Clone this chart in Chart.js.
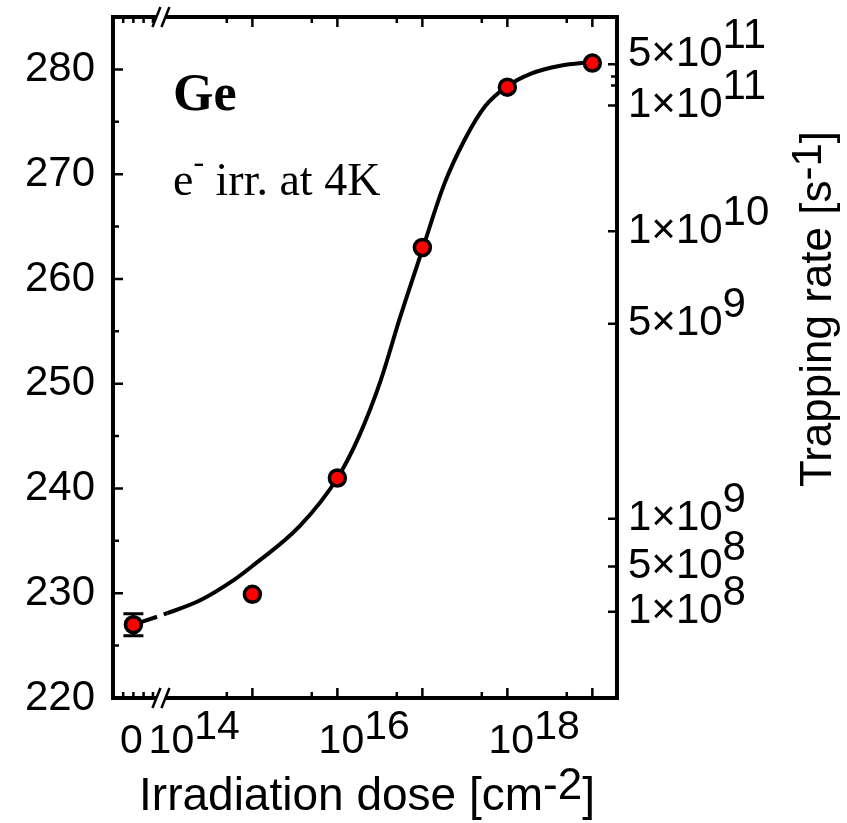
<!DOCTYPE html>
<html>
<head>
<meta charset="utf-8">
<script src="https://cdn.jsdelivr.net/npm/chart.js@4.4.1/dist/chart.umd.min.js"></script>
<style>
  html, body { margin: 0; padding: 0; background: #fff; }
  canvas { display: block; }
</style>
</head>
<body>
<canvas id="myChart" width="847" height="823"></canvas>
<script>
// measured points: dose [cm^-2] and lifetime [ps]
var doseValues = [0, 1e15, 1e16, 1e17, 1e18, 1e19];
var lifetimeValues = [227, 229.9, 241, 263, 278.3, 280.6];
var lifetimeErr = [1.05, 0, 0, 0, 0, 0];

// fitted curve
var fitDose = [0, 1e14, 2.4e14, 5.9e14, 1e15, 3.6e15, 1e16, 1.8e16, 3.2e16, 5.5e16,
               1e17, 1.8e17, 3.2e17, 5.5e17, 1e18, 1.9e18, 4.2e18, 1e19];
var fitLifetime = [227.0, 228.1, 229.3, 231.2, 232.6, 236.4, 241.0, 245.0, 250.2, 256.4,
                   262.8, 269.0, 273.4, 276.5, 278.4, 279.6, 280.35, 280.7];

// left axis
var yTicks = [220, 230, 240, 250, 260, 270, 280];
var yMinorTicks = [225, 235, 245, 255, 265, 275, 285];

// bottom axis
var xLabelDose = [0, 1e14, 1e16, 1e18];
var xMajorDose = [1e15, 1e16, 1e17, 1e18, 1e19];
var xMinorDose = [5e14, 5e15, 5e16, 5e17, 5e18];
var zeroTicks = [13.48, 13.6, 13.72, 13.83];

// right axis: trapping rate, placed on the lifetime scale
var rateMant = [5, 1, 1, 5, 1, 5, 1];
var rateExp = [11, 11, 10, 9, 9, 8, 8];
var ratePos = [280.48, 276.56, 264.55, 255.73, 237.10, 232.54, 228.24];
var rateMinorPos = [279.33, 278.47];

var ZERO_POS = 13.6;   // dose 0 sits left of the axis break
var BREAK_POS = 13.93;
function pos(d) { return d === 0 ? ZERO_POS : Math.log10(d); }

var SANS = 'Arial, "Liberation Sans", sans-serif';
var SERIF = '"Times New Roman", "Liberation Serif", serif';

// draws text pieces one after another, sup pieces raised
function drawParts(ctx, parts, x, y, align) {
  var total = 0;
  parts.forEach(function (p) { ctx.font = p.font; p.w = ctx.measureText(p.t).width; total += p.w; });
  var cx = align === 'center' ? x - total / 2 : x;
  parts.forEach(function (p) {
    ctx.font = p.font;
    ctx.fillText(p.t, cx, y - (p.rise || 0));
    cx += p.w;
  });
}

var frame = {
  id: 'frame',
  beforeDatasetsDraw: function (chart) {
    var ctx = chart.ctx, xs = chart.scales.x, ys = chart.scales.y;
    ctx.save();
    ctx.strokeStyle = '#000';
    ctx.lineWidth = 3;
    doseValues.forEach(function (d, i) {
      if (!lifetimeErr[i]) return;
      var px = xs.getPixelForValue(pos(d));
      var y0 = ys.getPixelForValue(lifetimeValues[i] - lifetimeErr[i]);
      var y1 = ys.getPixelForValue(lifetimeValues[i] + lifetimeErr[i]);
      ctx.beginPath();
      ctx.moveTo(px, y0); ctx.lineTo(px, y1);
      ctx.moveTo(px - 10, y0); ctx.lineTo(px + 10, y0);
      ctx.moveTo(px - 10, y1); ctx.lineTo(px + 10, y1);
      ctx.stroke();
    });
    ctx.restore();
  },
  afterDatasetsDraw: function (chart) {
    var ctx = chart.ctx, a = chart.chartArea;
    var xs = chart.scales.x, ys = chart.scales.y, yr = chart.scales.y1;
    ctx.save();
    ctx.strokeStyle = '#000';
    ctx.fillStyle = '#000';
    ctx.lineCap = 'butt';

    // ticks, pointing inward
    ctx.lineWidth = 2.5;
    ctx.beginPath();
    yTicks.forEach(function (v) { var py = ys.getPixelForValue(v); ctx.moveTo(a.left, py); ctx.lineTo(a.left + 10, py); });
    yMinorTicks.forEach(function (v) { var py = ys.getPixelForValue(v); ctx.moveTo(a.left, py); ctx.lineTo(a.left + 6, py); });
    function xt(px, len) {
      ctx.moveTo(px, a.bottom); ctx.lineTo(px, a.bottom - len);
      ctx.moveTo(px, a.top); ctx.lineTo(px, a.top + len);
    }
    xMajorDose.forEach(function (d) { xt(xs.getPixelForValue(pos(d)), 10); });
    xMinorDose.forEach(function (d) { xt(xs.getPixelForValue(pos(d)), 6); });
    zeroTicks.forEach(function (v) { xt(xs.getPixelForValue(v), 6); });
    ratePos.forEach(function (v) { var py = yr.getPixelForValue(v); ctx.moveTo(a.right, py); ctx.lineTo(a.right - 9, py); });
    rateMinorPos.forEach(function (v) { var py = yr.getPixelForValue(v); ctx.moveTo(a.right, py); ctx.lineTo(a.right - 6, py); });
    ctx.stroke();

    // frame
    ctx.lineWidth = 4;
    ctx.strokeRect(a.left, a.top, a.right - a.left, a.bottom - a.top);

    // axis break marks
    var bx = xs.getPixelForValue(BREAK_POS);
    [a.top, a.bottom].forEach(function (ay) {
      ctx.fillStyle = '#fff';
      ctx.fillRect(bx - 5, ay - 3, 9, 6);
      ctx.lineWidth = 2.5;
      ctx.beginPath();
      ctx.moveTo(bx - 9, ay + 10); ctx.lineTo(bx - 1, ay - 10);
      ctx.moveTo(bx, ay + 10); ctx.lineTo(bx + 8, ay - 10);
      ctx.stroke();
    });
    ctx.fillStyle = '#000';

    // bottom tick labels
    var f = '41px ' + SANS;
    ctx.textBaseline = 'alphabetic';
    ctx.textAlign = 'left';
    var by = a.bottom + 55;
    xLabelDose.forEach(function (d) {
      var px = xs.getPixelForValue(pos(d));
      if (d === 0) { drawParts(ctx, [{ t: '0', font: f }], px - 2, by, 'center'); return; }
      ctx.font = f;
      var w = ctx.measureText('10').width;
      drawParts(ctx, [{ t: '10', font: f }, { t: String(Math.round(Math.log10(d))), font: f, rise: 14 }], px - w / 2 + 4, by, 'left');
    });

    // right tick labels
    var rf = '42px ' + SANS;
    ctx.textBaseline = 'middle';
    ratePos.forEach(function (v, i) {
      var py = yr.getPixelForValue(v) + (i === 0 ? -10 : 0);
      drawParts(ctx, [{ t: rateMant[i] + '\u00d710', font: rf }, { t: String(rateExp[i]), font: rf, rise: 18 }], a.right + 11, py, 'left');
    });

    // axis titles
    ctx.textBaseline = 'alphabetic';
    var tf = '46px ' + SANS;
    drawParts(ctx, [{ t: 'Irradiation dose [cm', font: tf }, { t: '-2', font: '44px ' + SANS, rise: 11 }, { t: ']', font: tf }],
      (a.left + a.right) / 2 + 2, a.bottom + 112, 'center');
    ctx.save();
    ctx.translate(a.right + 214, a.top + 292);
    ctx.rotate(-Math.PI / 2);
    var rtf = '44px ' + SANS;
    drawParts(ctx, [{ t: 'Trapping rate [s', font: rtf }, { t: '-1', font: '42px ' + SANS, rise: 10 }, { t: ']', font: rtf }], 0, 0, 'center');
    ctx.restore();

    // annotations
    drawParts(ctx, [{ t: 'Ge', font: 'bold 52px ' + SERIF }], a.left + 60, a.top + 93, 'left');
    drawParts(ctx, [{ t: 'e', font: '46px ' + SERIF }, { t: '-', font: '32px ' + SERIF, rise: 23 }, { t: ' irr. at 4K', font: '46px ' + SERIF }],
      a.left + 60, a.top + 178, 'left');
    ctx.restore();
  }
};

var myChart = document.getElementById('myChart').getContext('2d');

var chart = new Chart(myChart, {
  type: 'scatter',
  data: {
    datasets: [{
      label: 'measured',
      data: doseValues.map(function (d, i) { return { x: pos(d), y: lifetimeValues[i] }; }),
      pointRadius: 8,
      pointHoverRadius: 8,
      pointBackgroundColor: '#ff0000',
      pointBorderColor: '#000',
      pointBorderWidth: 3.5,
      showLine: false
    }, {
      label: 'fit',
      data: fitDose.map(function (d, i) { return { x: pos(d), y: fitLifetime[i] }; }),
      showLine: true,
      pointRadius: 0,
      borderColor: '#000',
      borderWidth: 4,
      cubicInterpolationMode: 'monotone',
      segment: {
        borderDash: function (c) { return c.p1.parsed.x <= 14.0001 ? [25, 7] : undefined; }
      }
    }]
  },
  options: {
    responsive: false,
    animation: false,
    layout: { padding: { top: 17, right: 230, bottom: 125, left: 0 } },
    plugins: {
      legend: { display: false },
      tooltip: { enabled: false }
    },
    scales: {
      x: {
        type: 'linear',
        display: false,
        min: 13.36,
        max: 19.29
      },
      y: {
        type: 'linear',
        position: 'left',
        min: 220,
        max: 285,
        afterFit: function (s) { s.width = 113; s.paddingTop = 0; s.paddingBottom = 0; },
        afterBuildTicks: function (s) { s.ticks = yTicks.map(function (v) { return { value: v }; }); },
        grid: { display: false, drawTicks: false },
        border: { display: false },
        ticks: {
          padding: 18,
          color: '#000',
          font: { family: SANS, size: 42 }
        }
      },
      y1: {
        type: 'linear',
        position: 'right',
        display: false,
        min: 220,
        max: 285
      }
    }
  },
  plugins: [frame]
});
</script>
</body>
</html>
